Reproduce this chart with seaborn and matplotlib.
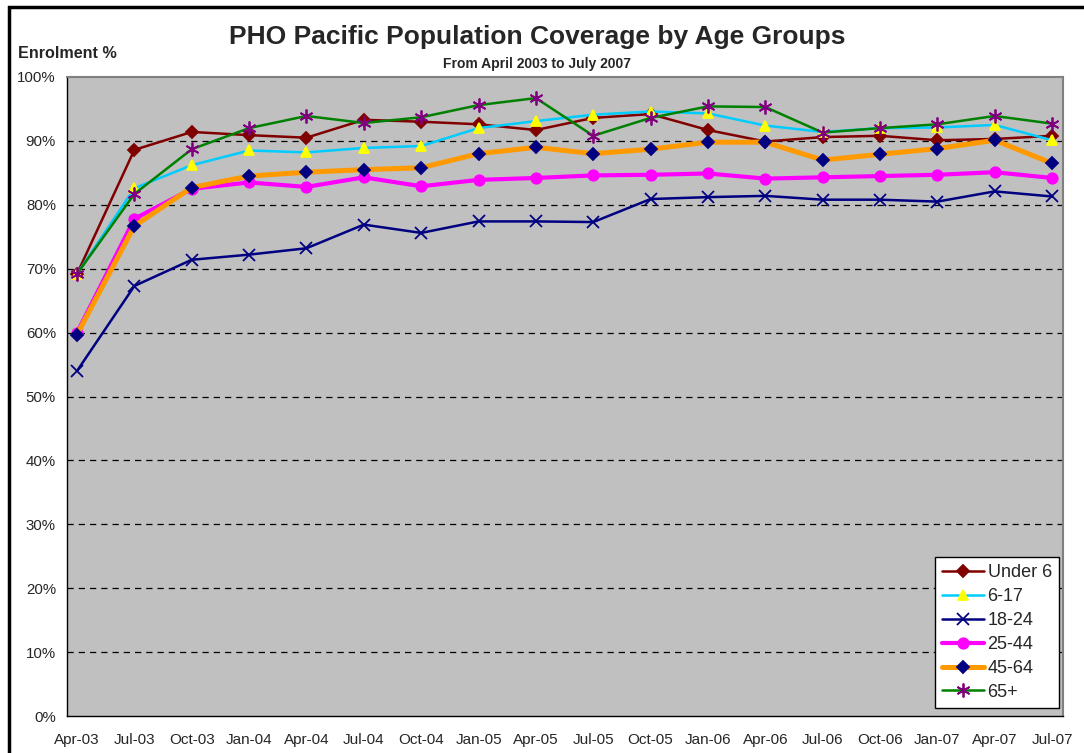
# PHO Pacific population coverage by age groups

import pandas as pd
import matplotlib
matplotlib.use('Agg')
import matplotlib.pyplot as plt
import matplotlib.patches as patches
from matplotlib.ticker import FixedLocator, PercentFormatter
import seaborn as sns

sns.set_style('white')
plt.rcParams['font.family'] = ['Liberation Sans', 'DejaVu Sans']

quarters = ['Apr-03', 'Jul-03', 'Oct-03', 'Jan-04', 'Apr-04', 'Jul-04', 'Oct-04', 'Jan-05', 'Apr-05',
            'Jul-05', 'Oct-05', 'Jan-06', 'Apr-06', 'Jul-06', 'Oct-06', 'Jan-07', 'Apr-07', 'Jul-07']

under_6 = [69.2, 88.6, 91.4, 90.9, 90.5, 93.3, 93.0, 92.6, 91.7, 93.6, 94.2, 91.7, 89.9, 90.6, 90.8, 90.1, 90.3, 90.8]
age_6_17 = [69.2, 82.6, 86.2, 88.5, 88.2, 88.9, 89.2, 92.0, 93.1, 94.1, 94.6, 94.3, 92.4, 91.4, 92.0, 92.1, 92.5, 90.1]
age_18_24 = [54.0, 67.3, 71.4, 72.2, 73.2, 76.9, 75.6, 77.4, 77.4, 77.3, 80.9, 81.2, 81.4, 80.8, 80.8, 80.5, 82.1, 81.3]
age_25_44 = [60.0, 77.8, 82.5, 83.5, 82.8, 84.3, 82.9, 83.9, 84.2, 84.6, 84.7, 84.9, 84.1, 84.3, 84.5, 84.7, 85.1, 84.2]
age_45_64 = [59.7, 76.7, 82.7, 84.5, 85.1, 85.5, 85.8, 88.0, 89.0, 88.0, 88.7, 89.8, 89.8, 87.0, 87.9, 88.8, 90.1, 86.5]
age_65_plus = [69.2, 81.7, 88.7, 92.0, 93.9, 92.8, 93.7, 95.6, 96.7, 90.8, 93.6, 95.4, 95.3, 91.3, 92.0, 92.6, 93.9, 92.7]

series = [
    # name, values, line colour, line width, marker, marker size, face, edge
    ('Under 6', under_6, '#800000', 1.8, 'D', 6, '#800000', '#800000'),
    ('6-17', age_6_17, '#00CCFF', 1.8, '^', 7, '#FFFF00', '#FFFF00'),
    ('18-24', age_18_24, '#000080', 1.8, 'x', 8, '#000080', '#000080'),
    ('25-44', age_25_44, '#FF00FF', 3.0, 'o', 7.5, '#FF00FF', '#FF00FF'),
    ('45-64', age_45_64, '#FF9900', 3.6, 'D', 6, '#000080', '#000080'),
    ('65+', age_65_plus, '#008000', 1.8, (6, 2, 0), 10, '#800080', '#800080'),
]

pos = list(range(len(quarters)))

fig = plt.figure(figsize=(10.84, 7.53), dpi=100)
ax = fig.add_axes([67 / 1084, 1 - 716 / 753, (1063 - 67) / 1084, (716 - 77) / 753])
ax.set_facecolor('#C0C0C0')

for name, vals, col, lw, mk, ms, fc, ec in series:
    df = pd.DataFrame({'pos': pos, 'val': vals})
    sns.lineplot(data=df, x='pos', y='val', ax=ax, color=col, linewidth=lw, marker=mk,
                 markersize=ms, markerfacecolor=fc, markeredgecolor=ec, markeredgewidth=1.3,
                 label=name)

ax.set_xlim(-0.175, 17.19)
ax.set_ylim(0, 100)
ax.set_xlabel('')
ax.set_ylabel('')

# y axis
ax.set_yticks(range(0, 101, 10))
ax.yaxis.set_major_formatter(PercentFormatter(decimals=0))
for g in range(10, 100, 10):
    ax.axhline(g, color='black', linewidth=0.9, linestyle=(0, (5, 4)), zorder=1)

# x axis: labels under the points, tick marks between
ax.set_xticks(pos)
ax.set_xticklabels(quarters)
ax.xaxis.set_minor_locator(FixedLocator([p - 0.175 for p in pos]))
ax.tick_params(axis='x', which='major', length=0, labelsize=11, pad=12)
ax.tick_params(axis='x', which='minor', length=5, width=1, color='black', direction='out')
ax.tick_params(axis='y', which='major', length=5, width=1, color='black', direction='out', labelsize=10.8, pad=3)

for s in ['left', 'bottom']:
    ax.spines[s].set_color('black')
    ax.spines[s].set_linewidth(1)
for s in ['top', 'right']:
    ax.spines[s].set_color('#808080')
    ax.spines[s].set_linewidth(1.5)

leg = ax.legend(loc='lower right', bbox_to_anchor=(1059 / 1084, 1 - 708 / 753), bbox_transform=fig.transFigure,
                frameon=True, fancybox=False, shadow=False, fontsize=13, handlelength=2.3,
                handletextpad=0.2, labelspacing=0.38, borderpad=0.4, borderaxespad=0)
leg.get_frame().set_edgecolor('black')
leg.get_frame().set_linewidth(1)
leg.get_frame().set_facecolor('white')
leg.get_frame().set_alpha(1)

fig.text(537 / 1084, 1 - 37 / 753, 'PHO Pacific Population Coverage by Age Groups', ha='center', va='center',
         fontsize=19, fontweight='bold')
fig.text(537 / 1084, 1 - 64 / 753, 'From April 2003 to July 2007', ha='center', va='center',
         fontsize=10, fontweight='bold')
fig.text(18 / 1084, 1 - 53 / 753, 'Enrolment %', ha='left', va='center', fontsize=11.6, fontweight='bold')

# outer chart frame (only left and top show in the picture)
fig.patches.append(patches.Rectangle((9 / 1084, -0.5), 2, 0.5 + 1 - 7 / 753, transform=fig.transFigure,
                                     fill=False, edgecolor='black', linewidth=2.5))

fig.savefig('out.png', dpi=100)
